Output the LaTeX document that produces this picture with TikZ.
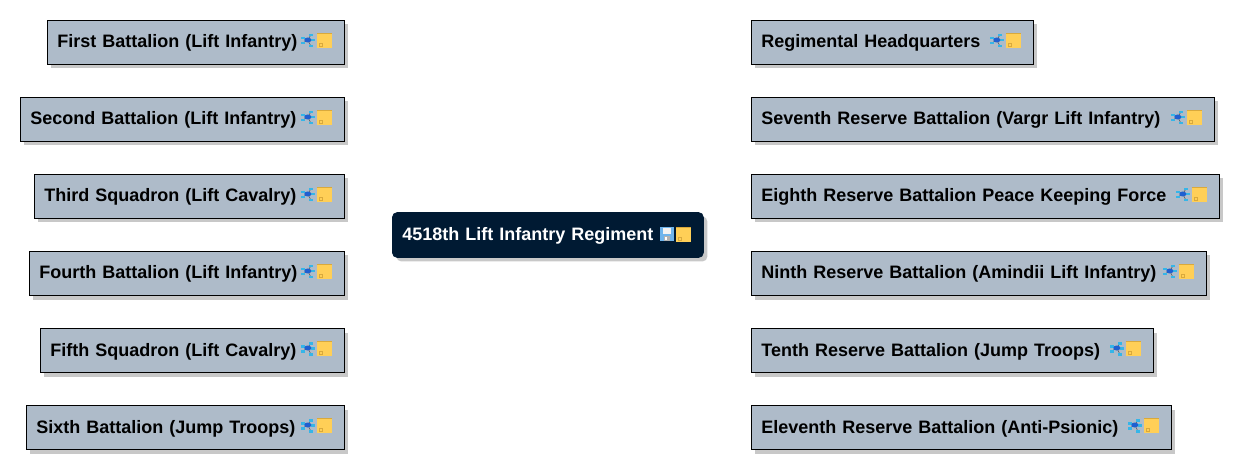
\documentclass[tikz,border=0pt]{standalone}
\usepackage{fontspec}
\setmainfont{Liberation Sans}
\usetikzlibrary{shadows}
\definecolor{unitfill}{HTML}{AEBBC9}
\definecolor{rootfill}{HTML}{001A33}
\definecolor{shadowgray}{HTML}{C8C8C8}
\definecolor{notefill}{HTML}{FFCF57}
\definecolor{noteedge}{HTML}{D9A93C}
\definecolor{linkcyan}{HTML}{35B5E8}
\definecolor{linkblue}{HTML}{1F5FD0}
\definecolor{diskblue}{HTML}{6FB4EC}
\tikzset{
  x=1pt, y=-1pt,
  unitbox/.style={draw=black, line width=0.8pt, fill=unitfill, anchor=west,
    minimum height=44pt, inner xsep=10pt, inner ysep=0pt, align=left,
    text height=13pt, text depth=2pt,
    font=\fontsize{18}{20}\selectfont\bfseries,
    drop shadow={shadow xshift=4pt, shadow yshift=-4pt, fill=shadowgray, opacity=1}},
  rootbox/.style={unitbox, draw=rootfill, fill=rootfill, rounded corners=5pt,
    text=white, minimum height=45pt},
  pics/noteicon/.style={code={
    \fill[notefill] (0,0) rectangle (15,15);
    \draw[noteedge, line width=0.6pt] (0,0.5) -- (15,0.5);
    \draw[noteedge, line width=0.5pt] (2,10) rectangle (5,13);
  }},
  pics/linkicon/.style={code={
    \draw[black!70, line width=0.5pt] (8,7) -- (3,5) (8,7) -- (3,10) (8,7) -- (11,2)
      (8,7) -- (13,7) (8,7) -- (11,13);
    \foreach \px/\py in {1/4, 1/9, 9/1, 11/6, 9/12} {
      \fill[linkcyan] (\px,\py) rectangle +(4,2.5);
    }
    \fill[linkblue] (8,7) ellipse (3.5 and 2.5);
  }},
  pics/diskicon/.style={code={
    \fill[diskblue] (0,0) rectangle (14,14);
    \fill[white!90!gray] (3,1) rectangle (11,7);
    \fill[gray!60] (4,9) rectangle (10,14);
    \fill[white] (5,10) rectangle (7,13);
  }},
}

\begin{document}
\begin{tikzpicture}
  \useasboundingbox (0,0) rectangle (1239,470);

  % Root in the middle
  \node[rootbox, text width=291pt] (root) at (392,235) {4518th Lift Infantry Regiment};
  \pic at ([shift={(-44,-8)}]root.east) {diskicon};
  \pic at ([shift={(-28,-8)}]root.east) {noteicon};

  % Units on the left
  \foreach \i/\x/\w/\t in {0/47/297/First Battalion (Lift Infantry),
      1/20/324/Second Battalion (Lift Infantry),
      2/34/310/Third Squadron (Lift Cavalry),
      3/29/315/Fourth Battalion (Lift Infantry),
      4/40/304/Fifth Squadron (Lift Cavalry),
      5/26/318/Sixth Battalion (Jump Troops)} {
    \pgfmathsetmacro{\ypos}{42.5+77*\i}
    \node[unitbox, text width=\w pt-20pt] (l\i) at (\x,\ypos) {\t};
    \pic at ([shift={(-45,-9.5)}]l\i.east) {linkicon};
    \pic at ([shift={(-28,-9.5)}]l\i.east) {noteicon};
  }

  % Units on the right
  \foreach \i/\w/\t in {0/282/Regimental Headquarters,
      1/463/Seventh Reserve Battalion (Vargr Lift Infantry),
      2/468/Eighth Reserve Battalion Peace Keeping Force,
      3/455/Ninth Reserve Battalion (Amindii Lift Infantry),
      4/402/Tenth Reserve Battalion (Jump Troops),
      5/420/Eleventh Reserve Battalion (Anti-Psionic)} {
    \pgfmathsetmacro{\ypos}{42.5+77*\i}
    \node[unitbox, text width=\w pt-20pt] (r\i) at (751,\ypos) {\t};
    \pic at ([shift={(-45,-9.5)}]r\i.east) {linkicon};
    \pic at ([shift={(-28,-9.5)}]r\i.east) {noteicon};
  }
\end{tikzpicture}
\end{document}
